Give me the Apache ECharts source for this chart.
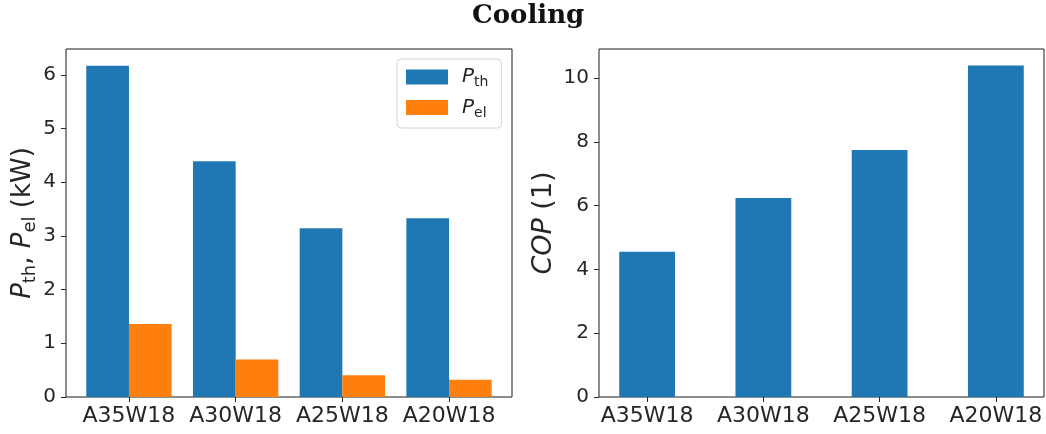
<!DOCTYPE html>
<html>
<head>
<meta charset="utf-8">
<script src="https://cdn.jsdelivr.net/npm/echarts@6/dist/echarts.min.js"></script>
<style>
  html, body { margin: 0; padding: 0; background: #fff; }
  #chart { width: 1046px; height: 434px; }
</style>
</head>
<body>
<div id="chart"></div>
<script>
// Operating points (air / water temperatures)
const categories = ['A35W18', 'A30W18', 'A25W18', 'A20W18'];
// Thermal and electrical power in kW
const pThermal = [6.17, 4.39, 3.14, 3.33];
const pElectric = [1.36, 0.70, 0.405, 0.32];
// Coefficient of performance
const cop = [4.55, 6.24, 7.74, 10.39];
// Tick positions of the value axes
const powerTicks = [0, 1, 2, 3, 4, 5, 6];
const copTicks = [0, 2, 4, 6, 8, 10];

const BLUE = '#1f77b4';
const ORANGE = '#ff7f0e';
const TEXT = '#262626';
const SANS = 'DejaVu Sans';

const catIdx = categories.map((_, i) => i);
const pairs = (vals) => vals.map((v, i) => [i, v]);

const mathRich = (size) => ({
  i: { fontFamily: SANS, fontStyle: 'italic', fontSize: size, lineHeight: Math.round(size * 1.25), color: TEXT },
  s: { fontFamily: SANS, fontSize: Math.round(size * 0.7), lineHeight: Math.round(size * 0.7), verticalAlign: 'bottom', color: TEXT },
  n: { fontFamily: SANS, fontSize: size, lineHeight: Math.round(size * 1.25), color: TEXT }
});

const xAxisBase = (min, max) => ({
  type: 'value',
  min: min,
  max: max,
  axisLine: { show: false, onZero: false },
  splitLine: { show: false },
  axisTick: { show: true, customValues: catIdx, length: 5, lineStyle: { color: TEXT, width: 1 } },
  axisLabel: {
    customValues: catIdx,
    formatter: (v) => categories[Math.round(v)],
    fontFamily: SANS, fontSize: 22, color: TEXT, margin: 8
  }
});

const yAxisBase = (max, ticks) => ({
  type: 'value',
  min: 0,
  max: max,
  axisLine: { show: false, onZero: false },
  splitLine: { show: false },
  axisTick: { show: true, customValues: ticks, length: 5, lineStyle: { color: TEXT, width: 1 } },
  axisLabel: { customValues: ticks, fontFamily: SANS, fontSize: 20, color: TEXT, margin: 10 }
});

const chart = echarts.init(document.getElementById('chart'), null, { renderer: 'canvas' });

chart.setOption({
  backgroundColor: '#fff',
  animation: false,
  title: {
    text: 'Cooling',
    left: 472,
    top: 3,
    padding: 0,
    textStyle: { fontFamily: 'DejaVu Serif', fontWeight: 'bold', fontSize: 26, color: '#111' }
  },
  legend: {
    data: ['Pth', 'Pel'],
    orient: 'vertical',
    left: 397,
    top: 59,
    padding: [8, 13, 8, 9],
    itemWidth: 42,
    itemHeight: 15,
    itemGap: 8,
    borderColor: '#d4d4d4',
    borderWidth: 1,
    borderRadius: 4,
    backgroundColor: 'rgba(255,255,255,0.8)',
    icon: 'rect',
    formatter: (name) => name === 'Pth' ? '{i|P}{s|th}' : '{i|P}{s|el}',
    textStyle: { padding: [0, 0, 0, 9], rich: mathRich(20) }
  },
  grid: [
    { left: 66, top: 49, width: 446, height: 348, show: true, borderColor: '#1a1a1a', borderWidth: 1, backgroundColor: 'transparent' },
    { left: 599, top: 49, width: 445, height: 348, show: true, borderColor: '#1a1a1a', borderWidth: 1, backgroundColor: 'transparent' }
  ],
  xAxis: [
    Object.assign(xAxisBase(-0.59, 3.59), { gridIndex: 0 }),
    Object.assign(xAxisBase(-0.414, 3.414), { gridIndex: 1 })
  ],
  yAxis: [
    Object.assign(yAxisBase(6.48, powerTicks), {
      gridIndex: 0,
      name: '{i|P}{s|th}{n|, }{i|P}{s|el}{n| (kW)}',
      nameLocation: 'middle',
      nameGap: 25,
      nameTextStyle: { rich: mathRich(26) }
    }),
    Object.assign(yAxisBase(10.91, copTicks), {
      gridIndex: 1,
      name: '{i|COP}{n| (1)}',
      nameLocation: 'middle',
      nameGap: 38,
      nameTextStyle: { rich: mathRich(27) }
    })
  ],
  series: [
    { name: 'Pth', type: 'bar', xAxisIndex: 0, yAxisIndex: 0, data: pairs(pThermal), barWidth: '40%', barGap: '0%', itemStyle: { color: BLUE } },
    { name: 'Pel', type: 'bar', xAxisIndex: 0, yAxisIndex: 0, data: pairs(pElectric), barWidth: '40%', barGap: '0%', itemStyle: { color: ORANGE } },
    { name: 'COP', type: 'bar', xAxisIndex: 1, yAxisIndex: 1, data: pairs(cop), barWidth: '48%', itemStyle: { color: BLUE } }
  ]
});
</script>
</body>
</html>
